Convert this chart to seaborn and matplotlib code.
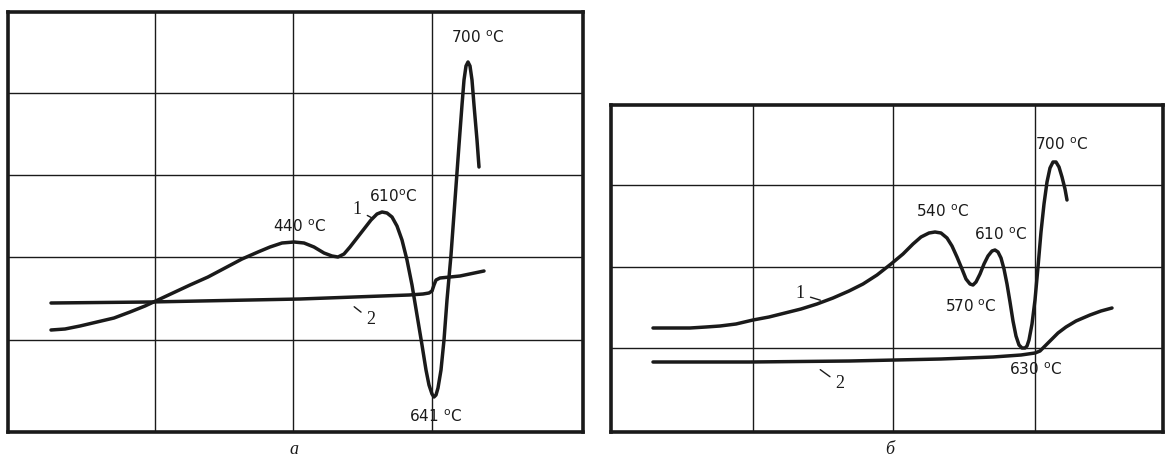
import matplotlib
matplotlib.use("Agg")
import matplotlib.pyplot as plt
import seaborn as sns
import pandas as pd

# Curve data (units: px inside each frame, y up)
a_curve1_x = [43, 57, 72, 89, 106, 122, 137, 152, 167, 182, 200, 217, 234, 250, 262, 274, 286, 296, 306,
              316, 324, 330, 336, 342, 349, 356, 363, 369, 374, 379, 384, 389, 394, 399, 404, 409, 414,
              418, 421, 424, 426, 428, 430, 433, 436, 439, 443, 447, 451, 454, 456, 458, 460, 462, 464,
              466, 469, 471]
a_curve1_y = [102, 103, 106, 110, 114, 120, 126, 133, 140, 147, 155, 164, 173, 180, 185, 189, 190, 189, 185,
              179, 176, 175, 178, 185, 194, 203, 212, 218, 220, 219, 215, 206, 192, 172, 147, 117, 87,
              62, 47, 38, 35, 37, 44, 62, 92, 132, 177, 232, 287, 327, 352, 366, 370, 366, 352,
              327, 292, 265]
a_curve2_x = [43, 142, 292, 401, 415, 421, 424, 426, 428, 432, 452, 476]
a_curve2_y = [129, 130, 133, 137, 138, 139, 141, 147, 152, 154, 156, 161]

b_curve1_x = [42, 60, 79, 95, 109, 125, 142, 158, 174, 190, 206, 222, 238, 252, 266, 280, 292, 302, 310,
              318, 324, 330, 336, 341, 346, 351, 355, 359, 362, 365, 369, 373, 377, 381, 384, 387, 390,
              393, 396, 399, 402, 405, 408, 411, 414, 416, 418, 421, 424, 427, 430, 433, 436, 439, 442,
              445, 448, 451, 454, 456]
b_curve1_y = [104, 104, 104, 105, 106, 108, 112, 115, 119, 123, 128, 134, 141, 148, 157, 168, 178, 188, 195,
              199, 200, 199, 194, 186, 175, 163, 153, 148, 147, 150, 158, 168, 176, 181, 182, 180, 174,
              163, 148, 130, 111, 96, 87, 84, 84, 86, 92, 108, 132, 165, 200, 228, 250, 264, 270,
              270, 265, 255, 243, 232]
b_curve2_x = [42, 139, 239, 330, 382, 410, 424, 429, 434, 440, 447, 455, 465, 479, 490, 501]
b_curve2_y = [70, 70, 71, 73, 75, 77, 79, 81, 86, 92, 99, 105, 111, 117, 121, 124]

# Peak labels
a_labels = ["440 $^{\\rm o}$C", "610$^{\\rm o}$C", "700 $^{\\rm o}$C", "641 $^{\\rm o}$C"]
a_label_x = [291, 385, 469, 427]
a_label_y = [205, 235, 394, 15]
b_labels = ["540 $^{\\rm o}$C", "610 $^{\\rm o}$C", "570 $^{\\rm o}$C", "630 $^{\\rm o}$C", "700 $^{\\rm o}$C"]
b_label_x = [331, 389, 360, 424, 450]
b_label_y = [220, 197, 125, 62, 287]

W, H = 1166, 463
sns.set_style("white")
plt.rcParams['font.family'] = ['Liberation Sans Narrow', 'DejaVu Sans']
plt.rcParams['mathtext.fontset'] = 'custom'
plt.rcParams['mathtext.rm'] = 'Liberation Sans Narrow'

fig = plt.figure(figsize=(W / 100, H / 100), dpi=100)
ink = '#1a1a1a'


def panel(rect, xlim, ylim, vgrid, hgrid):
    ax = fig.add_axes([rect[0] / W, rect[1] / H, rect[2] / W, rect[3] / H])
    ax.set_xlim(*xlim)
    ax.set_ylim(*ylim)
    ax.set_xticks(vgrid)
    ax.set_yticks(hgrid)
    ax.tick_params(length=0, labelbottom=False, labelleft=False)
    ax.grid(True, color=ink, lw=1.0)
    for s in ax.spines.values():
        s.set_visible(True)
        s.set_color(ink)
        s.set_linewidth(2.6)
    return ax


def draw(ax, xs, ys):
    df = pd.DataFrame({'x': xs, 'y': ys})
    sns.lineplot(data=df, x='x', y='y', sort=False, color=ink, lw=2.5, ax=ax,
                 solid_joinstyle='round', solid_capstyle='round')
    ax.set_xlabel('')
    ax.set_ylabel('')


# Panel a
ax1 = panel((8, 31, 575, 420), (0, 575), (0, 420), [147, 285, 424], [92, 175, 257, 339])
draw(ax1, a_curve1_x, a_curve1_y)
draw(ax1, a_curve2_x, a_curve2_y)
for t, x, y in zip(a_labels, a_label_x, a_label_y):
    ax1.text(x, y, t, ha='center', va='center', fontsize=11, color=ink)
ax1.annotate('1', xy=(366, 213), xytext=(349, 222), ha='center', va='center', fontsize=13,
             family='Liberation Serif', color=ink, arrowprops=dict(arrowstyle='-', color=ink, lw=1))
ax1.annotate('2', xy=(344, 127), xytext=(363, 112), ha='center', va='center', fontsize=13,
             family='Liberation Serif', color=ink, arrowprops=dict(arrowstyle='-', color=ink, lw=1))

# Panel б
ax2 = panel((611, 31, 552, 327), (0, 552), (0, 327), [142, 282, 424], [84, 165, 247])
draw(ax2, b_curve1_x, b_curve1_y)
draw(ax2, b_curve2_x, b_curve2_y)
for t, x, y in zip(b_labels, b_label_x, b_label_y):
    ax2.text(x, y, t, ha='center', va='center', fontsize=11, color=ink)
ax2.annotate('1', xy=(212, 131), xytext=(189, 138), ha='center', va='center', fontsize=13,
             family='Liberation Serif', color=ink, arrowprops=dict(arrowstyle='-', color=ink, lw=1))
ax2.annotate('2', xy=(207, 64), xytext=(229, 48), ha='center', va='center', fontsize=13,
             family='Liberation Serif', color=ink, arrowprops=dict(arrowstyle='-', color=ink, lw=1))

fig.text(294 / W, 1 - 450 / H, 'а', ha='center', va='center', fontsize=13,
         family='Liberation Serif', style='italic', color=ink)
fig.text(890 / W, 1 - 450 / H, 'б', ha='center', va='center', fontsize=13,
         family='Liberation Serif', style='italic', color=ink)

fig.savefig('out.png', dpi=100, facecolor='white')
